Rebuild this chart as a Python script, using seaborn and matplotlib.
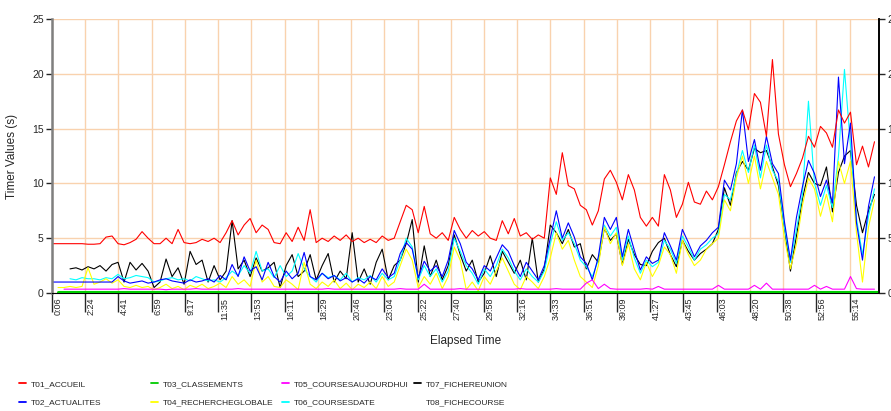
import numpy as np
import pandas as pd
import matplotlib
matplotlib.use("Agg")
import matplotlib.pyplot as plt
import matplotlib.transforms as mtransforms
from matplotlib.lines import Line2D
import seaborn as sns

# Tick labels of the elapsed-time axis (mm:ss)
time_labels = ["0:06", "2:24", "4:41", "6:59", "9:17", "11:35", "13:53", "16:11",
               "18:29", "20:46", "23:04", "25:22", "27:40", "29:58", "32:16", "34:33",
               "36:51", "39:09", "41:27", "43:45", "46:03", "48:20", "50:38", "52:56",
               "55:14"]

# Sampling clock (seconds), one sample every ~25 s
elapsed = 6 + 24.9 * np.arange(138)

nan = np.nan

t01_accueil = [
    4.5, 4.5, 4.5, 4.5, 4.5, 4.5, 4.45, 4.45, 4.5, 5.1,
    5.2, 4.5, 4.4, 4.6, 4.9, 5.6, 5.0, 4.5, 4.5, 5.0,
    4.5, 5.8, 4.6, 4.5, 4.6, 4.9, 4.7, 5.0, 4.6, 5.5,
    6.6, 5.3, 6.2, 6.8, 5.5, 6.2, 5.8, 4.6, 4.5, 5.5,
    4.7, 6.0, 4.8, 7.6, 4.6, 5.0, 4.7, 5.2, 4.8, 5.3,
    4.7, 5.0, 4.6, 4.9, 4.6, 5.2, 4.8, 5.0, 6.5, 8.0,
    7.6, 5.5, 7.9, 5.4, 5.0, 5.5, 4.8, 6.9, 5.8, 5.0,
    5.7, 5.2, 5.6, 5.0, 4.8, 6.6, 5.4, 6.8, 5.2, 5.5,
    4.9, 5.3, 5.0, 10.5, 9.0, 12.8, 9.8, 9.5, 8.0, 7.6,
    6.2, 7.5, 10.4, 11.2, 10.1, 8.5, 10.8, 9.4, 6.9, 6.1,
    6.9, 6.1, 10.8, 9.4, 6.9, 8.1, 10.1, 8.3, 8.1, 9.3,
    8.5, 9.7, 11.7, 13.8, 15.7, 16.7, 14.9, 18.2, 17.4, 14.3,
    21.3, 14.5, 11.7, 9.7, 10.9, 12.3, 14.3, 13.3, 15.2, 14.6,
    13.3, 16.7, 15.5, 16.5, 11.7, 13.4, 11.5, 13.8]

t02_actualites = [
    1.0, 1.0, 1.0, 1.0, 1.0, 1.0, 1.0, 1.0, 1.0, 1.0,
    1.0, 1.5, 1.1, 0.9, 1.0, 1.1, 0.9, 1.0, 1.2, 1.3,
    1.1, 1.0, 0.9, 1.2, 1.0, 1.1, 1.3, 1.0, 1.6, 1.2,
    2.6, 1.5, 3.3, 2.0, 2.4, 1.2, 2.8, 1.5, 1.0, 2.0,
    1.3, 1.8, 3.7, 1.5, 1.2, 1.8, 1.3, 1.6, 1.1, 1.4,
    1.0, 1.3, 0.9, 1.5, 1.2, 2.2, 1.4, 1.8, 3.6, 4.6,
    4.0, 1.4, 2.9, 2.0, 2.5, 1.5, 3.0, 5.7, 4.5, 2.8,
    2.2, 1.2, 2.5, 2.0, 3.2, 4.4, 3.8, 2.5, 1.5, 2.8,
    2.0, 1.2, 2.5, 5.0, 7.5, 5.0, 6.4, 5.1, 3.3, 2.7,
    1.2, 3.3, 6.9, 5.8, 6.9, 3.3, 5.8, 3.9, 2.1, 3.3,
    2.7, 3.0, 5.5, 4.3, 3.0, 5.8, 4.6, 3.3, 4.3, 4.8,
    5.5, 6.0, 10.3, 9.4, 11.8, 16.7, 12.0, 14.0, 11.2, 14.3,
    11.8, 10.9, 6.5, 3.0, 6.9, 9.7, 12.1, 10.9, 8.8, 10.3,
    8.2, 19.7, 11.8, 15.5, 6.4, 3.0, 7.9, 10.6]

t03_times = [30, 3436]
t03_classements = [0.1, 0.1]

t04_rechercheglobale = [
    nan, 0.5, 0.5, 0.6, 0.5, 0.6, 2.3, 0.8, 1.0, 1.3,
    0.9, 1.2, 0.6, 0.5, 0.7, 0.5, 0.6, 0.3, 0.5, 0.8,
    0.4, 0.6, 0.3, 0.7, 0.5, 0.8, 0.4, 0.6, 0.9, 0.5,
    1.5, 0.8, 1.2, 0.6, 3.0, 1.0, 1.5, 0.6, 0.5, 1.2,
    0.8, 0.3, 2.8, 0.8, 0.4, 1.0, 0.6, 1.2, 0.4, 0.9,
    0.3, 0.8, 0.5, 1.0, 0.4, 1.5, 0.6, 1.0, 2.5, 4.0,
    3.0, 0.5, 1.5, 0.8, 1.8, 0.4, 1.5, 4.2, 3.0, 0.3,
    1.0, 0.2, 1.5, 0.8, 2.0, 3.2, 2.0, 0.8, 0.3, 1.5,
    1.0, 0.4, 1.5, 3.2, 5.5, 4.0, 4.8, 3.0, 1.5, 1.0,
    0.5, 2.5, 6.0, 4.5, 5.5, 2.5, 4.5, 2.2, 1.2, 2.8,
    1.5, 2.5, 4.2, 3.5, 1.8, 4.8, 3.5, 2.5, 3.0, 4.0,
    4.5, 5.0, 8.5, 7.5, 10.5, 12.5, 10.0, 12.5, 9.5, 12.0,
    10.5, 9.0, 5.0, 2.2, 4.5, 8.0, 10.5, 9.5, 7.0, 9.0,
    6.5, 12.0, 10.0, 12.0, 5.5, 1.0, 6.0, 8.5]

t05_coursesaujourdhui = [
    nan, nan, 0.35, 0.35, 0.35, 0.35, 0.35, 0.35, 0.35, 0.35,
    0.35, 0.35, 0.4, 0.35, 0.35, 0.35, 0.35, 0.35, 0.35, 0.3,
    0.35, 0.35, 0.35, 0.35, 0.4, 0.35, 0.35, 0.35, 0.35, 0.35,
    0.35, 0.4, 0.35, 0.35, 0.35, 0.35, 0.35, 0.35, 0.35, 0.35,
    0.35, 0.35, 0.35, 0.35, 0.35, 0.35, 0.4, 0.35, 0.35, 0.35,
    0.35, 0.35, 0.35, 0.35, 0.35, 0.35, 0.35, 0.35, 0.4, 0.35,
    0.35, 0.35, 0.8, 0.35, 0.35, 0.35, 0.35, 0.35, 0.4, 0.35,
    0.35, 0.35, 0.35, 0.35, 0.35, 0.35, 0.35, 0.35, 0.4, 0.35,
    0.35, 0.35, 0.35, 0.35, 0.4, 0.35, 0.35, 0.35, 0.35, 0.9,
    1.2, 0.4, 0.8, 0.4, 0.35, 0.35, 0.35, 0.35, 0.35, 0.4,
    0.35, 0.6, 0.35, 0.35, 0.35, 0.35, 0.35, 0.35, 0.35, 0.35,
    0.35, 0.7, 0.35, 0.35, 0.35, 0.35, 0.35, 0.7, 0.35, 0.9,
    0.35, 0.35, 0.35, 0.35, 0.35, 0.35, 0.35, 0.7, 0.35, 0.6,
    0.35, 0.35, 0.35, 1.5, 0.4, 0.35, 0.35, 0.35]

t06_coursesdate = [
    nan, nan, nan, 1.3, 1.2, 1.4, 1.3, 1.3, 1.2, 1.4,
    1.3, 1.7, 1.3, 1.4, 1.6, 1.5, 1.4, 1.0, 1.1, 1.3,
    1.4, 1.2, 1.3, 1.1, 1.5, 1.3, 1.1, 1.2, 1.0, 1.4,
    2.0, 1.6, 2.5, 1.8, 3.8, 2.0, 2.2, 1.4, 2.5, 1.5,
    2.0, 3.6, 2.2, 1.5, 1.0, 1.8, 1.4, 1.6, 1.2, 1.8,
    1.0, 1.4, 1.2, 1.6, 1.0, 1.8, 1.2, 1.5, 3.0, 5.0,
    4.2, 1.2, 2.5, 1.5, 2.2, 1.0, 2.0, 5.0, 3.8, 2.5,
    1.8, 0.8, 2.2, 1.5, 2.5, 4.0, 3.2, 2.0, 1.2, 2.2,
    1.5, 1.0, 2.0, 4.5, 6.5, 4.8, 5.5, 4.5, 3.0, 2.4,
    1.5, 3.0, 6.2, 5.2, 6.0, 3.0, 5.2, 3.2, 1.8, 3.0,
    2.4, 2.8, 4.8, 4.0, 2.7, 5.2, 4.2, 3.0, 4.0, 4.4,
    5.0, 5.4, 9.0, 8.5, 10.8, 13.0, 11.0, 13.5, 10.5, 13.5,
    11.2, 10.2, 6.0, 2.8, 5.8, 9.0, 17.5, 10.0, 8.0, 9.8,
    7.8, 12.5, 20.4, 13.5, 6.8, 3.5, 7.0, 9.5]

t07_fichereunion = [
    nan, nan, nan, 2.2, 2.3, 2.1, 2.4, 2.2, 2.5, 2.0,
    2.6, 2.8, 1.0, 2.8, 2.1, 2.7, 2.0, 0.5, 1.0, 3.1,
    1.5, 2.3, 0.8, 3.8, 2.6, 3.0, 1.0, 2.5, 1.2, 2.0,
    6.6, 2.2, 3.0, 1.5, 3.2, 2.0, 2.3, 2.8, 0.5, 2.5,
    3.5, 1.5, 2.0, 3.5, 1.2, 2.5, 3.6, 1.0, 2.0, 1.3,
    5.5, 1.0, 2.2, 0.8, 2.8, 4.0, 1.2, 2.5, 3.0, 4.5,
    6.7, 1.0, 4.3, 1.5, 3.0, 1.2, 2.5, 5.3, 3.5, 2.0,
    3.0, 1.0, 1.8, 3.4, 1.5, 3.8, 2.8, 1.8, 3.0, 1.2,
    5.0, 1.0, 2.2, 6.2, 5.5, 4.5, 5.8, 4.2, 4.5, 2.2,
    3.5, 2.8, 5.9, 4.8, 5.4, 2.6, 4.9, 3.5, 2.6, 2.5,
    3.8, 4.6, 5.0, 3.5, 2.4, 4.8, 3.8, 3.0, 3.6, 4.0,
    4.5, 5.8, 9.6, 8.0, 11.0, 12.0, 11.2, 13.2, 12.8, 13.0,
    11.5, 9.8, 6.0, 2.0, 5.2, 8.6, 11.0, 10.0, 9.8, 11.5,
    7.4, 11.0, 12.5, 13.0, 8.0, 5.5, 7.5, 9.0]

legend_names = ["T01_ACCUEIL", "T02_ACTUALITES", "T03_CLASSEMENTS", "T04_RECHERCHEGLOBALE",
                "T05_COURSESAUJOURDHUI", "T06_COURSESDATE", "T07_FICHEREUNION", "T08_FICHECOURSE"]
colors = ["#FF0000", "#0000FF", "#00CC00", "#FFFF00", "#FF00FF", "#00FFFF", "#000000", "#FFFFFF"]


def to_seconds(label):
    m, s = label.split(":")
    return int(m) * 60 + int(s)


sns.set_style("white")
plt.rcParams["font.family"] = ["Liberation Sans", "DejaVu Sans"]

fig = plt.figure(figsize=(8.91, 4.11), dpi=100)
ax = fig.add_axes([52 / 891, 1 - 293 / 411, 827 / 891, 274 / 411])

grid_color = "#F9D2AE"
ax.set_axisbelow(True)

# series, back to front
series = [
    (t07_fichereunion, 6),
    (t06_coursesdate, 5),
    (t04_rechercheglobale, 3),
    (t02_actualites, 1),
    (t05_coursesaujourdhui, 4),
    (t01_accueil, 0),
]
for values, idx in series:
    df = pd.DataFrame({"elapsed": elapsed, "value": values})
    sns.lineplot(data=df, x="elapsed", y="value", color=colors[idx], lw=0.8,
                 ax=ax, legend=False, estimator=None)

df3 = pd.DataFrame({"elapsed": t03_times, "value": t03_classements})
sns.lineplot(data=df3, x="elapsed", y="value", color=colors[2], lw=2.2,
             ax=ax, legend=False, estimator=None, zorder=5)

ax.set_xlim(6, 3436)
ax.set_ylim(0, 25)
ax.set_xticks([to_seconds(t) for t in time_labels])
ax.set_xticklabels(time_labels, rotation=90, fontsize=6.5)
ax.set_yticks([0, 5, 10, 15, 20, 25])
ax.tick_params(axis="y", labelsize=7.5, length=4, width=1, direction="out", pad=2, left=True)
ax.tick_params(axis="x", length=14, width=1, direction="out", pad=-10.5, bottom=True)
offset = mtransforms.ScaledTranslation(4.5 / 72, 0, fig.dpi_scale_trans)
for lab in ax.get_xticklabels():
    lab.set_transform(lab.get_transform() + offset)

ax.grid(True, color=grid_color, lw=1)
ax.spines["top"].set_visible(False)
ax.spines["left"].set_color("#7F7F7F")
ax.spines["left"].set_linewidth(1.8)
ax.spines["bottom"].set_color("black")
ax.spines["right"].set_color("black")
ax.spines["right"].set_linewidth(1.2)

ax.set_xlabel("Elapsed Time", fontsize=8.5)
ax.set_ylabel("Timer Values (s)", fontsize=8.5)
ax.xaxis.set_label_coords(0.5, -0.155)
ax.yaxis.set_label_coords(-0.041, 0.5)

ax2 = ax.twinx()
ax2.set_ylim(0, 25)
ax2.set_yticks([0, 5, 10, 15, 20, 25])
ax2.tick_params(axis="y", labelsize=7.5, length=4, width=1, direction="out", pad=2, right=True)
for side in ["top", "left", "bottom"]:
    ax2.spines[side].set_visible(False)
ax2.spines["right"].set_color("black")
ax2.spines["right"].set_linewidth(1.2)

# legend: four columns of two entries
handles = [Line2D([], [], color=c, lw=1.3) for c in colors]
col_x = [19, 151, 282, 414]
for i, x0 in enumerate(col_x):
    fig.legend(handles[2 * i:2 * i + 2], legend_names[2 * i:2 * i + 2],
               loc="upper left", bbox_to_anchor=(x0 / 891, 1 - 380 / 411),
               frameon=False, fontsize=6,
               handlelength=0.85, handletextpad=0.55, labelspacing=1.3,
               borderpad=0, borderaxespad=0)

fig.savefig("out.png", dpi=100)
